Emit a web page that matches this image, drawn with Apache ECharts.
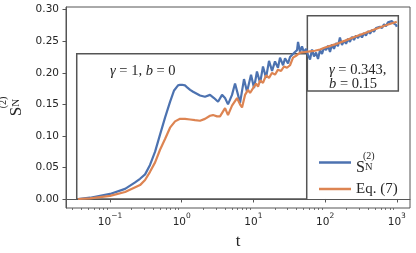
<!DOCTYPE html>
<html><head><meta charset="utf-8">
<script src="https://cdn.jsdelivr.net/npm/echarts@6/dist/echarts.min.js"></script>
<style>html,body{margin:0;padding:0;background:#fff}#c{width:416px;height:253px}</style>
</head><body><div id="c"></div>
<script>
// ---- data ----
const tBlue = [0.0358,0.0526,0.100,0.162,0.221,0.262,0.308,0.361,0.425,0.498,0.585,0.687,0.782,0.888,0.947,1.01,1.11,1.19,1.31,1.44,1.80,2.11,2.48,2.82,3.21,3.65,4.02,4.42,5.03,5.54,6.10,6.50,7.39,8.14,9.26,10.2,11.2,12.4,13.6,15.0,16.5,18.2,20.0,22.0,23.5,25.9,27.6,30.4,32.4,34.5,38.0,40.6,41.9,44.7,47.6,50.8,54.2,57.8,61.6,65.7,70.0,74.7,79.6,84.9,90.5,96.5,103,110,117,125,133,142,151,161,172,184,196,209,222,237,253,270,288,307,327,349,372,397,423,451,481,513,547,583,622,663,707,754,804,857,914,975,1000];
const sBlue = [0.000,0.002,0.008,0.016,0.026,0.032,0.039,0.054,0.075,0.102,0.129,0.154,0.172,0.180,0.181,0.181,0.180,0.177,0.173,0.170,0.164,0.162,0.165,0.160,0.154,0.165,0.160,0.150,0.165,0.183,0.165,0.152,0.190,0.170,0.197,0.176,0.202,0.184,0.210,0.192,0.219,0.203,0.218,0.208,0.224,0.212,0.223,0.215,0.225,0.222,0.233,0.236,0.249,0.233,0.242,0.232,0.238,0.228,0.221,0.237,0.226,0.232,0.222,0.236,0.230,0.240,0.236,0.243,0.233,0.245,0.238,0.247,0.242,0.256,0.244,0.251,0.246,0.254,0.249,0.257,0.252,0.259,0.255,0.261,0.256,0.263,0.259,0.266,0.262,0.268,0.265,0.271,0.268,0.273,0.271,0.277,0.274,0.280,0.277,0.282,0.278,0.276,0.273];
const tEq = [0.0358,0.0526,0.100,0.162,0.262,0.308,0.361,0.425,0.498,0.585,0.687,0.807,0.947,1.11,1.31,1.53,1.80,2.11,2.48,2.73,3.11,3.42,4.02,4.42,5.03,5.91,6.50,6.94,7.64,8.41,8.97,9.56,10.2,10.9,11.6,12.4,13.6,15.0,16.5,18.2,20.0,22.0,24.3,26.7,29.4,32.4,35.7,39.3,44.7,52.5,61.6,72.3,84.9,99.7,137,190,261,361,497,685,1000];
const sEq = [0.000,0.001,0.005,0.011,0.022,0.030,0.043,0.058,0.078,0.095,0.113,0.123,0.127,0.127,0.126,0.125,0.124,0.127,0.132,0.133,0.131,0.131,0.144,0.133,0.148,0.160,0.150,0.145,0.165,0.173,0.168,0.166,0.178,0.183,0.178,0.188,0.184,0.196,0.192,0.200,0.197,0.205,0.203,0.210,0.208,0.212,0.224,0.227,0.232,0.233,0.234,0.235,0.237,0.240,0.245,0.251,0.257,0.263,0.269,0.275,0.281];
const xMajorTicks = [0.1, 1, 10, 100, 1000];
const xMinorTicks = [0.03,0.04,0.05,0.06,0.07,0.08,0.09,0.2,0.3,0.4,0.5,0.6,0.7,0.8,0.9,2,3,4,5,6,7,8,9,20,30,40,50,60,70,80,90,200,300,400,500,600,700,800,900];
const yTicks = [0, 0.05, 0.10, 0.15, 0.20, 0.25, 0.30];
const boxEarly = [[0.0343, 0.0], [55.4, 0.230]];
const boxLate = [[56.5, 0.171], [1050, 0.2905]];
const xRange = [0.0243, 1528];
const yRange = [-0.0143, 0.3043];

const BLUE = '#4c72b0', ORANGE = '#dd8452', SPINE = '#555', TXT = '#262626';
const zip = (a, b) => a.map((v, i) => [v, b[i]]);
const supMinus = s => String(s).replace('-', '\u2212');

const chart = echarts.init(document.getElementById('c'), null, {renderer: 'canvas'});
const serif = 'Liberation Serif';
chart.setOption({
  animation: false,
  backgroundColor: '#fff',
  grid: {left: 66, right: 6, top: 7, bottom: 45, show: true, borderColor: SPINE, borderWidth: 1,
         backgroundColor: 'transparent', containLabel: false, outerBoundsMode: 'none'},
  xAxis: [{
    type: 'log', logBase: 10, min: xRange[0], max: xRange[1],
    name: 't', nameLocation: 'middle', nameGap: 24,
    nameTextStyle: {fontFamily: serif, fontSize: 17, color: TXT},
    axisLine: {show: true, lineStyle: {color: SPINE, width: 1}},
    axisTick: {show: true, customValues: xMajorTicks, length: 3.5, lineStyle: {color: SPINE, width: 1}},
    axisLabel: {
      customValues: xMajorTicks, margin: 4, color: TXT,
      formatter: v => '{b|10}{e|' + supMinus(Math.round(Math.log10(v))) + '}',
      rich: {
        b: {fontFamily: 'DejaVu Sans', fontSize: 10.5, color: TXT, lineHeight: 16, verticalAlign: 'bottom'},
        e: {fontFamily: 'DejaVu Sans', fontSize: 7.5, color: TXT, lineHeight: 16, verticalAlign: 'top'}
      }
    },
    splitLine: {show: false}, minorTick: {show: false}
  }, {
    type: 'log', logBase: 10, min: xRange[0], max: xRange[1], position: 'bottom',
    axisLine: {show: false},
    axisTick: {show: true, customValues: xMinorTicks, length: 2, lineStyle: {color: SPINE, width: 0.8}},
    axisLabel: {show: false}, splitLine: {show: false}
  }],
  yAxis: {
    type: 'value', min: yRange[0], max: yRange[1],
    name: '{pad|}{sup|(2)}\n{s|S}{sub|N}', nameLocation: 'middle', nameGap: 36,
    nameTextStyle: {
      color: TXT,
      rich: {
        pad: {width: 10, fontSize: 9, lineHeight: 8},
        sup: {fontFamily: serif, fontSize: 10, color: TXT, lineHeight: 8},
        s: {fontFamily: serif, fontSize: 17, color: TXT, lineHeight: 14, verticalAlign: 'top'},
        sub: {fontFamily: serif, fontSize: 11, color: TXT, lineHeight: 14, verticalAlign: 'bottom'}
      }
    },
    axisLine: {show: true, lineStyle: {color: SPINE, width: 1}},
    axisTick: {show: true, customValues: yTicks, length: 3.5, lineStyle: {color: SPINE, width: 1}},
    axisLabel: {customValues: yTicks, formatter: v => v.toFixed(2), fontFamily: 'DejaVu Sans', fontSize: 10.5, color: TXT, margin: 7},
    splitLine: {show: false}
  },
  legend: {
    orient: 'vertical', left: 314, top: 146, itemWidth: 32, itemHeight: 2.5, itemGap: 6,
    icon: 'rect',
    formatter: n => n === 'SN2' ? '{pad|}{sup|(2)}\n{s|S}{sub|N}' : '{t|Eq. (7)}',
    textStyle: {
      color: TXT, padding: [0, 0, 0, 0],
      rich: {
        pad: {width: 7, fontSize: 9, lineHeight: 7},
        sup: {fontFamily: serif, fontSize: 10, color: TXT, lineHeight: 7},
        s: {fontFamily: serif, fontSize: 16, color: TXT, lineHeight: 13, verticalAlign: 'top'},
        sub: {fontFamily: serif, fontSize: 10.5, color: TXT, lineHeight: 13, verticalAlign: 'bottom'},
        t: {fontFamily: serif, fontSize: 15, color: TXT, lineHeight: 18}
      }
    },
    data: ['SN2', 'Eq. (7)']
  },
  graphic: [
    {type: 'text', left: 110, top: 64, silent: true,
     style: {text: '{i|\u03b3} = 1, {i|b} = 0', font: '14.5px "Liberation Serif"', fill: TXT,
       rich: {i: {fontFamily: serif, fontStyle: 'italic', fontSize: 14.5, fill: TXT}}}},
    {type: 'text', left: 329, top: 63, silent: true,
     style: {text: '{i|\u03b3} = 0.343,\n{i|b} = 0.15', font: '14.5px "Liberation Serif"', fill: TXT, lineHeight: 14,
       rich: {i: {fontFamily: serif, fontStyle: 'italic', fontSize: 14.5, fill: TXT, lineHeight: 14}}}}
  ],
  series: [{
    name: 'SN2', type: 'line', showSymbol: false, data: zip(tBlue, sBlue),
    lineStyle: {color: BLUE, width: 2.2}, itemStyle: {color: BLUE}, z: 3,
    markArea: {silent: true, itemStyle: {color: 'rgba(0,0,0,0)', borderColor: SPINE, borderWidth: 1.5},
      data: [[{coord: boxEarly[0]}, {coord: boxEarly[1]}], [{coord: boxLate[0]}, {coord: boxLate[1]}]]}
  }, {
    name: 'Eq. (7)', type: 'line', showSymbol: false, data: zip(tEq, sEq),
    lineStyle: {color: ORANGE, width: 2.2}, itemStyle: {color: ORANGE}, z: 4
  }]
});
</script></body></html>
